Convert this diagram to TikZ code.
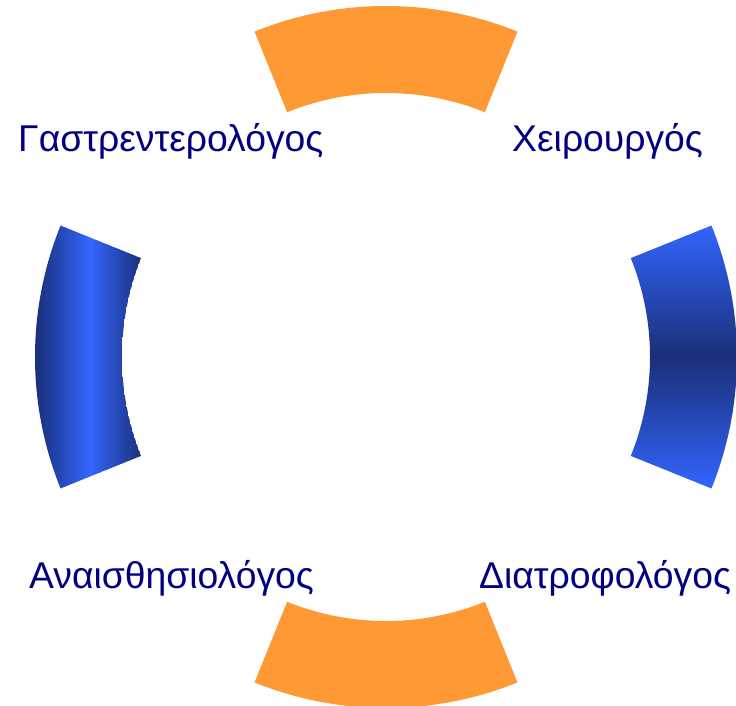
\documentclass[tikz,border=0pt]{standalone}
\usepackage{fontspec}
\setmainfont{Liberation Sans}
\definecolor{ringorange}{HTML}{FF9933}
\definecolor{ringblue}{HTML}{3366FF}
\definecolor{ringdark}{HTML}{1A2F78}
\definecolor{labelnavy}{HTML}{000080}
\tikzset{
  role/.style={inner sep=0pt, anchor=base west, text=labelnavy,
    font=\fontsize{37.3}{44}\selectfont},
}
% ring segment: #1 start angle, #2 end angle
\newcommand{\ringpart}[2]{(#1:351pt) arc[start angle=#1, end angle=#2, radius=351pt]
  -- (#2:264pt) arc[start angle=#2, end angle=#1, radius=264pt] -- cycle}
\begin{document}
\begin{tikzpicture}
\useasboundingbox (0,0) rectangle (736pt,-706pt);
\begin{scope}[shift={(386pt,-357pt)}]
  % top and bottom segments
  \fill[ringorange] \ringpart{68}{112};
  \fill[ringorange] \ringpart{248}{292};
  % left segment: dark at both edges, bright in the middle, across
  \begin{scope}
    \clip \ringpart{158}{202};
    \foreach \i in {0,...,54} {
      \pgfmathtruncatemacro{\p}{100*(1-abs(\i-27)/27)}
      \fill[ringblue!\p!ringdark] (-351pt+2*\i pt,-140pt) rectangle ++(2.4pt,280pt);
    }
  \end{scope}
  % right segment: bright at both ends, dark in the middle, top to bottom
  \begin{scope}
    \clip \ringpart{-22}{22};
    \foreach \i in {0,...,66} {
      \pgfmathtruncatemacro{\p}{100*(abs(\i-33)/33)}
      \fill[ringblue!\p!ringdark] (240pt,-134pt+4*\i pt) rectangle ++(120pt,4.4pt);
    }
  \end{scope}
\end{scope}
\node[role] (gastro) at (18pt,-152pt) {Γαστρεντερολόγος};
\node[role] (cheir) at (512pt,-152pt) {Χειρουργός};
\node[role] (anaisth) at (29pt,-588pt) {Αναισθησιολόγος};
\node[role] (diatr) at (479pt,-588pt) {Διατροφολόγος};
\end{tikzpicture}
\end{document}
